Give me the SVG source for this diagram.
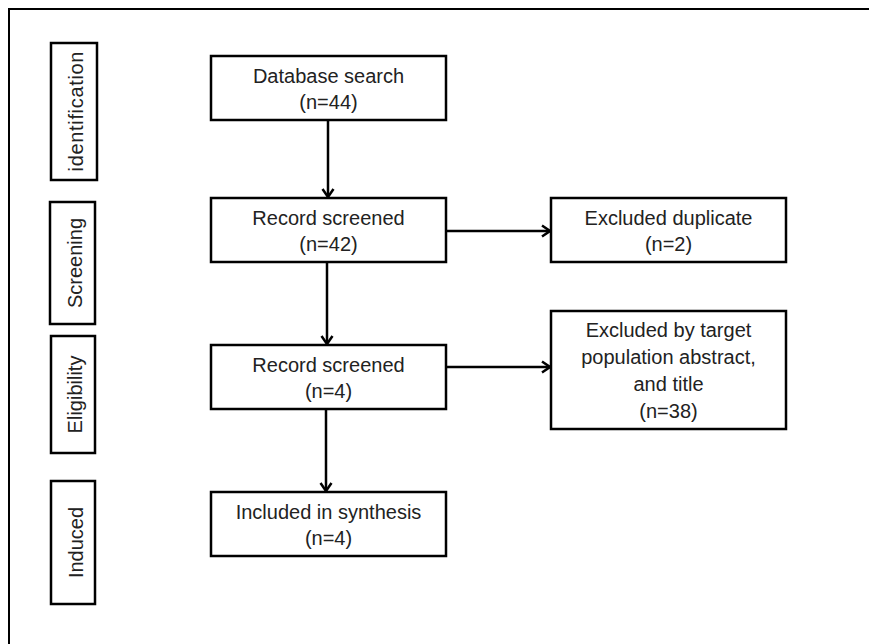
<svg xmlns="http://www.w3.org/2000/svg" width="869" height="644" viewBox="0 0 869 644">
<style>
.box{fill:#fff;stroke:#000;stroke-width:2.5}
.t{font-family:"Liberation Sans",Arial,sans-serif;font-size:20px;fill:#222;text-anchor:middle}
.c{stroke:#000;stroke-width:2.5;fill:none}
</style>
<defs>
<marker id="ah" markerUnits="userSpaceOnUse" markerWidth="14" markerHeight="14" viewBox="0 0 14 14" refX="12" refY="7" orient="auto">
<path d="M4,1.5 L12,7 L4,12.5" fill="none" stroke="#000" stroke-width="2.5"/>
</marker>
</defs>
<rect width="869" height="644" fill="#fff"/>
<path d="M9,650 L9,9 L875,9" fill="none" stroke="#000" stroke-width="2"/>
<g id="stage-identification"><rect class="box" x="51" y="43" width="46" height="137"/><text class="t" transform="translate(83,111.5) rotate(-90)" textLength="120" lengthAdjust="spacing">identification</text></g>
<g id="stage-screening"><rect class="box" x="50" y="202" width="45" height="122"/><text class="t" transform="translate(82,263) rotate(-90)">Screening</text></g>
<g id="stage-eligibility"><rect class="box" x="51" y="336" width="44" height="117"/><text class="t" transform="translate(82,394.5) rotate(-90)">Eligibility</text></g>
<g id="stage-induced"><rect class="box" x="51" y="481" width="44" height="123"/><text class="t" transform="translate(83,542.5) rotate(-90)">Induced</text></g>
<g id="database"><rect class="box" x="211" y="56" width="235" height="64"/><text class="t" x="328.5" y="83">Database search</text><text class="t" x="328.5" y="109">(n=44)</text></g>
<g id="screened42"><rect class="box" x="211" y="198" width="235" height="64"/><text class="t" x="328.5" y="225">Record screened</text><text class="t" x="328.5" y="251">(n=42)</text></g>
<g id="duplicate"><rect class="box" x="551" y="198" width="235" height="64"/><text class="t" x="668.5" y="225">Excluded duplicate</text><text class="t" x="668.5" y="251">(n=2)</text></g>
<g id="screened4"><rect class="box" x="211" y="345" width="235" height="64"/><text class="t" x="328.5" y="372">Record screened</text><text class="t" x="328.5" y="398">(n=4)</text></g>
<g id="target"><rect class="box" x="551" y="311" width="235" height="118"/><text class="t" x="668.5" y="337">Excluded by target</text><text class="t" x="668.5" y="364">population abstract,</text><text class="t" x="668.5" y="391">and title</text><text class="t" x="668.5" y="418">(n=38)</text></g>
<g id="included"><rect class="box" x="211" y="492" width="235" height="64"/><text class="t" x="328.5" y="519">Included in synthesis</text><text class="t" x="328.5" y="545">(n=4)</text></g>
<g id="connectors">
<line class="c" x1="328" y1="121" x2="328" y2="197" marker-end="url(#ah)"/>
<line class="c" x1="327" y1="263" x2="327" y2="344" marker-end="url(#ah)"/>
<line class="c" x1="326" y1="410" x2="326" y2="491" marker-end="url(#ah)"/>
<line class="c" x1="447" y1="231" x2="550" y2="231" marker-end="url(#ah)"/>
<line class="c" x1="447" y1="367" x2="550" y2="367" marker-end="url(#ah)"/>
</g>
</svg>
